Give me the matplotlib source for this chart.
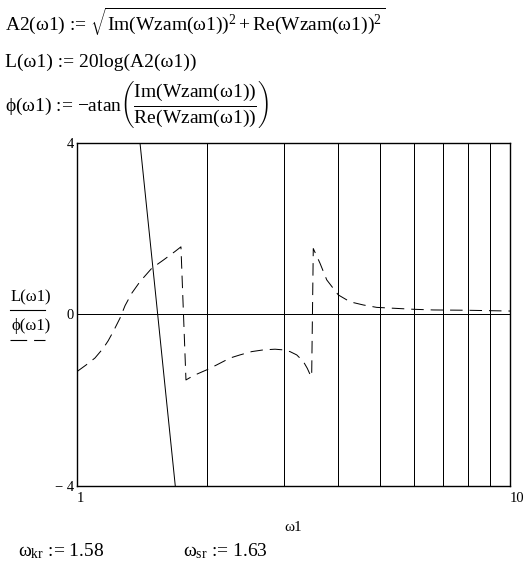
import matplotlib
matplotlib.use("Agg")
import matplotlib.pyplot as plt
from matplotlib.ticker import LogLocator, NullFormatter, FixedLocator
from matplotlib.lines import Line2D

plt.rcParams['font.family'] = ['Liberation Serif', 'DejaVu Serif']
plt.rcParams['mathtext.fontset'] = 'custom'
plt.rcParams['mathtext.rm'] = 'Liberation Serif'
plt.rcParams['mathtext.it'] = 'Liberation Serif:italic'
plt.rcParams['mathtext.bf'] = 'Liberation Serif:bold'
plt.rcParams['lines.scale_dashes'] = False

# ---- data ----
omega_L = [1.38, 1.45, 1.52, 1.60, 1.70]
L_vals = [4.54, 2.44, 0.44, -1.76, -4.34]

omega_phi = [1.00, 1.05, 1.10, 1.15, 1.18, 1.213, 1.257, 1.291, 1.338, 1.398,
             1.488, 1.582, 1.683, 1.738, 1.785, 1.857, 1.993, 2.102, 2.256,
             2.379, 2.532, 2.694, 2.867, 2.996, 3.104, 3.217, 3.332, 3.403,
             3.465, 3.483, 3.513, 3.64, 3.774, 4.013, 4.271, 4.584, 4.922,
             5.377, 5.98, 6.65, 7.94, 10.0]
phi_vals = [-1.335, -1.18, -1.02, -0.79, -0.62, -0.40, -0.09, 0.20, 0.49, 0.76,
            1.07, 1.26, 1.46, 1.57, -1.53, -1.43, -1.295, -1.18, -1.02,
            -0.947, -0.87, -0.83, -0.814, -0.83, -0.87, -0.947, -1.10, -1.26,
            -1.435, -1.45, 1.53, 1.19, 0.80, 0.45, 0.29, 0.216, 0.16,
            0.14, 0.116, 0.10, 0.093, 0.075]

x_ticks = [1, 10]
x_tick_labels = ["1", "10"]
y_ticks = [-4, 0, 4]
y_tick_labels = ["\u2212 4", "0", "4"]

W, H = 527, 567
fig = plt.figure(figsize=(W / 100, H / 100), dpi=100)
fig.patch.set_facecolor('white')

def fx(px):
    return px / W

def fy(py):
    return 1 - py / H

ax = fig.add_axes([fx(77), fy(486), fx(510) - fx(77), fy(142.5) - fy(486)])
ax.set_xscale('log')
ax.set_xlim(1, 10)
ax.set_ylim(-4, 4)

ax.xaxis.set_major_locator(FixedLocator(x_ticks))
ax.set_xticklabels(x_tick_labels)
ax.xaxis.set_minor_locator(LogLocator(base=10, subs=range(2, 10)))
ax.xaxis.set_minor_formatter(NullFormatter())
ax.set_yticks(y_ticks)
ax.set_yticklabels(y_tick_labels)
ax.tick_params(which='both', length=0, labelsize=10.5)
ax.tick_params(axis='y', pad=2)
ax.tick_params(axis='x', pad=4)
for lab in ax.get_xticklabels():
    lab.set_ha('left')

ax.grid(which='minor', axis='x', color='black', lw=0.72, antialiased=False)
ax.grid(which='major', axis='y', color='black', lw=0.72, antialiased=False)
for s in ax.spines.values():
    s.set_linewidth(1.0)
    s.set_color('black')

ax.plot(omega_L, L_vals, color='black', lw=0.72)
ax.plot(omega_phi, phi_vals, color='black', lw=0.72, dashes=(9, 5))

ax.set_xlabel("\u03c91", fontsize=11, labelpad=12)

# y-axis legend-style label
fig.text(fx(11), fy(297), "L(\u03c91)", fontsize=12, ha='left', va='center')
fig.add_artist(Line2D([fx(10), fx(45)], [fy(310), fy(310)], color='black',
                      lw=0.8, transform=fig.transFigure))
fig.text(fx(11), fy(326), "\u03d5(\u03c91)", fontsize=12, ha='left', va='center')
fig.add_artist(Line2D([fx(10), fx(45)], [fy(340), fy(340)], color='black',
                      lw=0.8, dashes=(12, 5), transform=fig.transFigure))

# equations
fs = 14
fig.text(fx(5), fy(22),
         "A2(\u03c91) := " + r"$\sqrt{\mathrm{Im(Wzam(\omega1))}^{2}+\mathrm{Re(Wzam(\omega1))}^{2}}$",
         fontsize=fs, ha='left', va='center')
fig.text(fx(5), fy(62), "L(\u03c91) := 20log(A2(\u03c91))",
         fontsize=fs, ha='left', va='center')
fig.text(fx(5), fy(104),
         "\u03d5(\u03c91) := \u2212atan" + r"$\left(\dfrac{\mathrm{Im(Wzam(\omega1))}}{\mathrm{Re(Wzam(\omega1))}}\right)$",
         fontsize=fs, ha='left', va='center')

fig.text(fx(18), fy(551), r"$\mathrm{\omega_{kr}}$" + " := 1.58",
         fontsize=fs, ha='left', va='center')
fig.text(fx(183), fy(551), r"$\mathrm{\omega_{sr}}$" + " := 1.63",
         fontsize=fs, ha='left', va='center')

fig.savefig("out.png", dpi=100)
